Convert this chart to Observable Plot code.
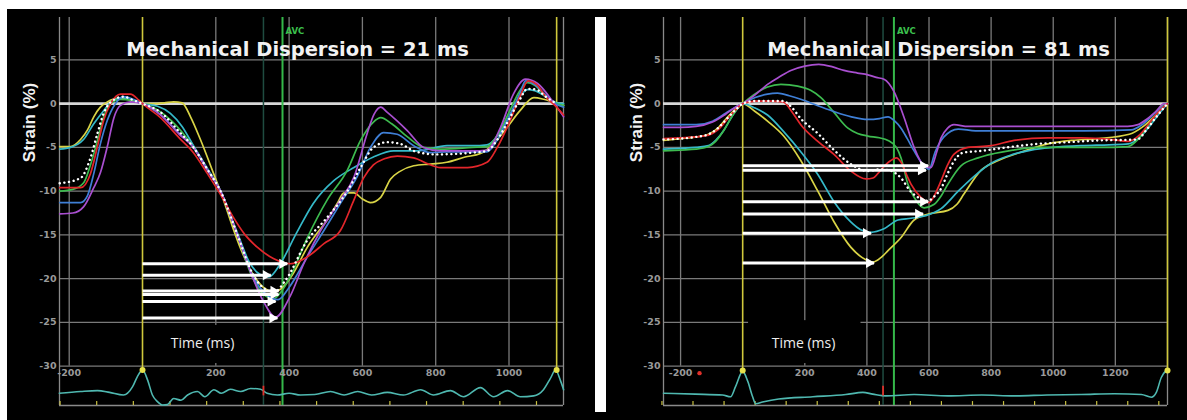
<!DOCTYPE html>
<html><head><meta charset="utf-8">
<script src="https://cdn.jsdelivr.net/npm/d3@7"></script>
<script src="https://cdn.jsdelivr.net/npm/@observablehq/plot@0.6"></script>
<style>
html,body{margin:0;padding:0;background:#fff;}
#wrap{position:relative;width:1187px;height:420px;overflow:hidden;background:#fff;}
#bg{position:absolute;left:7px;top:9px;width:1180px;height:411px;background:#000;}
#divider{position:absolute;left:595px;top:17px;width:11px;height:395px;background:#fff;}
#left{position:absolute;left:7px;top:9px;}
#right{position:absolute;left:606px;top:9px;}
svg{display:block}
</style></head>
<body>
<div id="wrap"><div id="bg"></div><div id="divider"></div><div id="left"></div><div id="right"></div></div>
<script>
// ---------- axis ticks ----------
const yTicks = [5, 0, -5, -10, -15, -20, -25, -30];
const leftXTicks = [-200, 200, 400, 600, 800, 1000];
const rightXTicks = [-200, 200, 400, 600, 800, 1000, 1200];
const leftEcgTicks = [-225, -125, -25, 75, 175, 275, 375, 475, 575, 675, 775, 875, 975, 1075];
const rightEcgTicks = [-260, -160, -60, 40, 140, 240, 340, 440, 540, 640, 740, 840, 940, 1040, 1140, 1240, 1340];

// ---------- titles ----------
const leftTitle = "Mechanical Dispersion = 21 ms";
const rightTitle = "Mechanical Dispersion = 81 ms";

// ---------- event times (ms) ----------
const leftYellowEvents = [0, 1130];
const leftIvcEvents = [330];
const leftAvcEvents = [382];
const leftRedDots = [];
const rightYellowEvents = [0, 1368];
const rightIvcEvents = [452];
const rightAvcEvents = [487];
const rightRedDots = [-139];

// ---------- left panel strain curves [ms, strain %] ----------
const leftYellow = [[-226,-4.9],[-196,-4.9],[-169,-4.1],[-150,-3.0],[-133,-1.5],[-115,-0.4],[-96,0.2],[-68,0.6],[-40,0.5],[-15,0.2],[0,0],[30,0],[60,0.1],[85,0.2],[108,0.1],[131,-1.5],[158,-4.1],[194,-8.0],[221,-11.0],[245,-14.0],[270,-16.8],[300,-19.4],[330,-21.0],[360,-21.5],[385,-20.9],[410,-19.5],[450,-16.4],[480,-14.6],[504,-13.3],[530,-11.5],[550,-10.2],[577,-10.2],[600,-10.9],[622,-11.3],[650,-10.7],[677,-8.6],[700,-7.8],[740,-7.1],[786,-6.9],[830,-6.7],[880,-6.1],[922,-5.7],[960,-4.5],[995,-2.7],[1030,-0.8],[1068,0.7],[1095,0.5],[1125,0.1],[1149,-0.2]];
const leftCyan = [[-226,-5.2],[-196,-5.0],[-161,-4.1],[-133,-2.3],[-106,-0.8],[-80,0.4],[-52,0.7],[-25,0.3],[0,0],[41,-0.3],[76,-1.1],[108,-2.6],[139,-4.8],[177,-7.4],[213,-10.0],[259,-14.8],[290,-18.0],[320,-19.5],[345,-19.8],[376,-18.3],[420,-14.8],[466,-11.4],[522,-8.8],[577,-7.3],[630,-6.1],[685,-5.4],[750,-5.4],[831,-4.8],[900,-4.8],[940,-4.7],[970,-3.6],[1000,-1.5],[1030,0.8],[1050,1.6],[1070,1.5],[1100,0.8],[1130,0.1],[1149,0]];
const leftGreen = [[-226,-10.0],[-190,-9.8],[-160,-9.0],[-142,-7.0],[-123,-4.2],[-106,-1.5],[-87,0],[-60,0.5],[-30,0.4],[0,0],[40,-0.7],[80,-2.0],[139,-5.0],[177,-7.6],[213,-10.0],[259,-15.0],[295,-19.4],[330,-21.8],[358,-22.3],[380,-21.4],[403,-19.8],[450,-15.3],[504,-11.0],[559,-7.6],[595,-4.2],[630,-2.1],[650,-1.6],[680,-2.3],[723,-3.8],[767,-5.0],[813,-5.2],[900,-5.0],[940,-4.9],[970,-3.5],[1000,-1.0],[1030,1.5],[1050,2.4],[1070,2.1],[1100,0.8],[1130,0],[1149,-0.2]];
const leftBlue = [[-226,-11.3],[-169,-11.3],[-150,-10.5],[-133,-8.0],[-115,-4.6],[-96,-1.9],[-74,0],[-52,0.8],[-25,0.5],[0,0],[50,-1.3],[100,-3.4],[139,-5.0],[177,-7.6],[213,-10.0],[259,-15.0],[300,-19.6],[340,-21.9],[370,-22.4],[400,-21.0],[450,-17.5],[495,-14.5],[540,-11.4],[585,-8.4],[622,-5.0],[658,-3.3],[695,-3.5],[740,-4.8],[786,-5.6],[831,-5.5],[940,-5.5],[970,-4.0],[1000,-1.5],[1030,1.2],[1045,2.6],[1070,2.2],[1100,1.0],[1130,-0.1],[1149,-0.4]];
const leftPurple = [[-226,-12.6],[-190,-12.5],[-161,-11.8],[-133,-9.6],[-115,-7.9],[-96,-4.9],[-78,-1.6],[-60,-0.2],[-33,0.2],[0,0],[50,-1.3],[100,-3.5],[139,-5.0],[177,-7.6],[213,-10.0],[259,-15.0],[300,-19.8],[330,-22.6],[363,-24.4],[403,-22.0],[440,-18.3],[486,-14.5],[540,-11.0],[577,-8.4],[613,-3.4],[632,-1.2],[650,-0.4],[668,-1.0],[723,-3.1],[767,-5.0],[813,-5.4],[900,-5.4],[940,-5.3],[977,-2.7],[1012,1.1],[1045,2.8],[1078,2.3],[1122,0.1],[1149,-1.5]];
const leftRed = [[-226,-9.6],[-169,-9.6],[-142,-8.0],[-123,-4.9],[-106,-1.9],[-87,0],[-60,1.1],[-33,1.1],[-10,0.4],[0,0],[49,-1.6],[100,-3.9],[139,-5.6],[177,-8.0],[213,-10.4],[248,-13.0],[280,-15.0],[313,-16.4],[357,-17.7],[403,-18.3],[450,-17.5],[495,-16.0],[540,-14.5],[577,-11.0],[603,-8.5],[630,-7.0],[660,-6.3],[695,-6.0],[740,-6.2],[780,-6.9],[813,-7.3],[887,-7.3],[940,-6.7],[968,-5.0],[995,-2.7],[1030,0.8],[1052,2.6],[1075,2.2],[1100,0.8],[1130,-0.4],[1149,-1.3]];
const leftAverage = [[-226,-9.1],[-169,-8.5],[-142,-6.2],[-123,-3.4],[-106,-1.1],[-80,0.4],[-52,0.8],[-25,0.4],[0,0],[50,-1.0],[100,-3.2],[139,-5.0],[177,-7.5],[213,-10.0],[259,-15.0],[300,-19.4],[335,-21.2],[360,-21.5],[390,-20.2],[450,-15.6],[504,-13.0],[559,-10.0],[595,-7.3],[630,-5.0],[668,-4.4],[704,-4.6],[740,-5.4],[800,-5.8],[900,-5.6],[940,-5.4],[970,-4.0],[1000,-1.8],[1030,0.5],[1050,1.7],[1075,1.6],[1100,0.8],[1130,0]];

// ---------- right panel strain curves [ms, strain %] ----------
const rightYellow = [[-255,-4.2],[-200,-4.0],[-150,-3.8],[-110,-3.5],[-80,-2.8],[-50,-1.6],[-20,-0.5],[0,0],[40,-0.9],[80,-2.0],[132,-3.7],[187,-6.5],[242,-10.0],[294,-13.5],[348,-16.4],[385,-17.6],[420,-18.1],[445,-17.6],[468,-16.8],[510,-15.3],[552,-13.3],[600,-12.6],[661,-12.2],[690,-11.5],[713,-10.3],[768,-7.6],[823,-6.5],[900,-5.5],[983,-4.6],[1060,-4.2],[1145,-4.0],[1245,-3.5],[1290,-2.6],[1330,-1.3],[1368,0]];
const rightCyan = [[-255,-5.2],[-200,-5.1],[-150,-5.0],[-110,-4.8],[-87,-4.2],[-60,-3.0],[-35,-1.5],[-15,-0.5],[0,0],[40,-0.5],[80,-1.3],[132,-3.2],[187,-5.5],[242,-8.1],[294,-11.2],[348,-13.5],[380,-14.4],[413,-14.7],[455,-14.3],[500,-13.3],[542,-13.1],[590,-12.8],[639,-12.0],[694,-10.0],[745,-8.3],[800,-6.8],[870,-5.8],[929,-5.3],[1000,-5.0],[1090,-4.8],[1180,-4.7],[1242,-4.6],[1280,-3.8],[1310,-2.6],[1340,-1.2],[1368,0]];
const rightGreen = [[-255,-5.4],[-200,-5.3],[-150,-5.2],[-110,-4.9],[-87,-4.3],[-60,-3.0],[-35,-1.5],[-15,-0.5],[0,0],[35,1.0],[80,1.9],[123,2.2],[177,2.0],[220,1.5],[252,0.7],[294,-1.0],[339,-2.8],[370,-3.4],[403,-3.7],[440,-3.9],[468,-4.2],[495,-5.0],[510,-6.2],[532,-9.2],[552,-10.7],[584,-11.9],[617,-11.5],[640,-10.5],[661,-9.2],[703,-7.1],[758,-6.2],[810,-5.7],[870,-5.3],[950,-5.0],[1050,-5.0],[1150,-5.0],[1240,-4.9],[1270,-4.2],[1300,-2.8],[1330,-1.3],[1360,0],[1368,0]];
const rightBlue = [[-255,-2.4],[-150,-2.4],[-97,-2.0],[-55,-1.1],[-23,-0.4],[0,0],[40,0.7],[80,1.1],[112,1.2],[150,0.9],[187,0.5],[240,-0.2],[294,-0.9],[350,-1.5],[403,-1.8],[440,-1.7],[468,-1.5],[490,-2.0],[510,-2.8],[530,-4.0],[552,-5.4],[584,-7.1],[600,-7.5],[620,-5.5],[648,-3.8],[694,-2.9],[750,-3.1],[850,-3.1],[1000,-3.1],[1100,-3.1],[1250,-3.0],[1290,-2.3],[1330,-1.0],[1368,0]];
const rightPurple = [[-255,-2.7],[-200,-2.7],[-150,-2.6],[-97,-2.1],[-55,-1.2],[-23,-0.4],[0,0],[40,1.0],[80,2.2],[120,3.1],[155,3.8],[200,4.3],[245,4.5],[290,4.2],[326,3.8],[370,3.5],[403,3.3],[430,3.0],[455,2.8],[487,1.4],[520,-1.6],[552,-5.0],[584,-7.1],[606,-7.3],[625,-5.5],[639,-3.9],[660,-2.8],[680,-2.4],[726,-2.6],[850,-2.6],[1000,-2.6],[1150,-2.6],[1240,-2.6],[1273,-2.4],[1300,-1.8],[1330,-0.9],[1358,0],[1368,0]];
const rightRed = [[-255,-4.0],[-200,-3.9],[-150,-3.8],[-110,-3.6],[-80,-3.0],[-50,-1.8],[-20,-0.6],[0,0],[40,0.3],[90,0.3],[130,0.2],[160,-1.0],[187,-2.4],[242,-4.3],[294,-5.8],[348,-7.7],[397,-8.6],[420,-8.5],[435,-8.0],[460,-7.0],[477,-6.5],[495,-6.2],[510,-6.7],[530,-8.3],[542,-9.2],[574,-10.7],[600,-11.3],[620,-10.3],[639,-8.8],[660,-7.0],[680,-5.8],[726,-5.0],[800,-4.8],[874,-4.2],[983,-3.9],[1090,-3.9],[1190,-4.1],[1242,-4.3],[1280,-3.5],[1310,-2.2],[1340,-0.9],[1368,0]];
const rightAverage = [[-255,-4.1],[-200,-4.0],[-150,-3.8],[-110,-3.5],[-80,-2.8],[-50,-1.7],[-20,-0.6],[0,0],[40,0.3],[90,0.3],[130,0.3],[160,-0.5],[187,-1.7],[242,-3.4],[294,-5.3],[348,-6.9],[403,-7.7],[440,-7.5],[470,-7.6],[510,-8.5],[540,-10.0],[570,-10.8],[595,-11.1],[620,-10.5],[639,-9.7],[660,-8.0],[680,-6.6],[710,-5.6],[768,-5.4],[850,-5.0],[950,-4.6],[1050,-4.4],[1150,-4.2],[1270,-4.1],[1300,-3.0],[1330,-1.6],[1368,0]];

// ---------- arrows: strain at peak, time of peak (ms) ----------
const leftArrowStrain = [-18.3, -19.6, -21.4, -21.8, -22.6, -24.5];
const leftArrowTime = [395, 350, 371, 371, 363, 368];
const rightArrowStrain = [-7.1, -7.6, -11.2, -12.6, -14.8, -18.2];
const rightArrowTime = [597, 590, 597, 581, 413, 423];

// ---------- ECG traces [ms, trace level] ----------
const leftEcg = [[-227,-33.1],[-169,-32.9],[-123,-32.8],[-90,-33.0],[-52,-33.3],[-27,-32.35],[-14,-31.2],[0,-30.45],[14,-31.6],[27,-33.3],[41,-34.06],[55,-34.45],[68,-34.4],[85,-33.7],[105,-33.9],[123,-33.3],[150,-32.9],[170,-33.5],[195,-32.7],[215,-33.1],[240,-32.65],[268,-32.9],[295,-32.55],[322,-32.65],[340,-33.1],[368,-33.3],[400,-33.1],[431,-33.3],[470,-33.25],[513,-32.9],[550,-33.3],[587,-32.9],[625,-33.3],[668,-33.0],[712,-33.3],[759,-32.7],[794,-33.3],[840,-32.8],[876,-33.5],[922,-32.46],[958,-33.5],[996,-32.8],[1031,-33.5],[1067,-33.4],[1094,-32.7],[1113,-31.4],[1127,-30.45],[1140,-31.6],[1149,-32.7]];
const rightEcg = [[-255,-33.1],[-152,-33.2],[-65,-33.3],[-39,-33.5],[-23,-32.35],[0,-30.6],[16,-31.7],[32,-33.5],[42,-34.3],[64,-34.1],[116,-33.75],[226,-33.5],[332,-33.25],[387,-33.0],[419,-33.2],[461,-33.4],[552,-33.25],[661,-33.4],[770,-33.3],[874,-33.4],[980,-33.3],[1090,-33.25],[1197,-33.15],[1284,-33.25],[1316,-33.55],[1332,-33.0],[1348,-31.3],[1366,-30.4]];

// ---------- styles ----------
const colors = {yellow:"#d9d446", cyan:"#35b9c9", green:"#3dbb4f", blue:"#3f7fd6", purple:"#a94fd0", red:"#e3262b", avg:"#ffffff"};
const gridColor = "#7a7a7a";
const tickFont = {fontFamily:"DejaVu Sans", fontWeight:"bold", fontSize:9.5, fill:"#9a9a9a"};

function panel(o) {
  const yDomain = [-34.5, 9.85];
  const pt = {x: d => d[0], y: d => d[1]};
  const curve = (pts, color, extra = {}) => Plot.line(pts, {...pt, stroke: color, strokeWidth: 1.7, curve: "monotone-x", ...extra});
  const marks = [
    // grid
    Plot.ruleY(yTicks.filter(d => d !== 0), {y: d => d, stroke: gridColor, strokeWidth: 1.3}),
    Plot.ruleX(o.xTicks, {x: d => d, y1: d3.min(yTicks), y2: yDomain[1], stroke: gridColor, strokeWidth: 1.3}),
    Plot.ruleX(o.xDomain, {x: d => d, stroke: "#8a8a8a", strokeWidth: 1.3}),
    Plot.ruleY([yDomain[0]], {y: d => d, stroke: "#8a8a8a", strokeWidth: 1.3}),
    Plot.ruleY([0], {y: d => d, stroke: "#d8d8d8", strokeWidth: 2.6}),
    // label box
    Plot.rect([o.box], {x1: d => d[0], x2: d => d[1], y1: d => d[2], y2: d => d[3], fill: "#000"}),
    // event lines
    Plot.ruleX(o.ivc, {x: d => d, stroke: "#1f4c40", strokeWidth: 1.5}),
    Plot.ruleX(o.avc, {x: d => d, stroke: "#35b84a", strokeWidth: 2}),
    Plot.ruleX(o.yellowEvents, {x: d => d, y1: o.ecgPeak, y2: yDomain[1], stroke: "#cfc83c", strokeWidth: 1.6}),
    // ECG
    Plot.ruleX(o.ecgTicks, {x: d => d, y1: yDomain[0], y2: -34.05, stroke: "#c8c040", strokeWidth: 1.2}),
    Plot.line(o.ecg, {...pt, stroke: "#4fb8b0", strokeWidth: 1.6, curve: "monotone-x"}),
    Plot.ruleX(o.ivc, {x: d => d, y1: -32.3, y2: -33.4, stroke: "#e0302a", strokeWidth: 1.8}),
    Plot.dot(o.yellowEvents, {x: d => d, y: o.ecgPeak, r: 3, fill: "#e5e04a"}),
    Plot.dot(o.redDots, {x: d => d, y: d3.min(yTicks), dy: 7, r: 2.2, fill: "#e0302a"}),
    // strain curves
    curve(o.s.yellow, colors.yellow),
    curve(o.s.cyan, colors.cyan),
    curve(o.s.green, colors.green),
    curve(o.s.blue, colors.blue),
    curve(o.s.purple, colors.purple),
    curve(o.s.red, colors.red),
    curve(o.s.avg, colors.avg, {strokeWidth: 2.4, strokeDasharray: "0.1,4.6", strokeLinecap: "round"}),
    // arrows (shaft + filled head)
    Plot.link(o.arrowStrain, {x1: 0, x2: (d, i) => o.arrowTime[i], y1: d => d, y2: d => d, stroke: "#ffffff", strokeWidth: 3}),
    Plot.dot(o.arrowStrain, {x: (d, i) => o.arrowTime[i], y: d => d, symbol: "triangle", rotate: 90, r: 3.8, fill: "#ffffff", dx: -5}),
    // tick labels
    Plot.text(o.xTicks, {x: d => d, y: d3.min(yTicks), dy: 7, text: d => String(d), ...tickFont}),
    Plot.text(yTicks, {y: d => d, frameAnchor: "left", dx: -3, textAnchor: "end", text: d => String(d), ...tickFont}),
    // titles and labels
    Plot.text([o.title], {frameAnchor: "top", dx: o.titleDx, dy: 32, lineAnchor: "middle", text: d => d, fontFamily: "DejaVu Sans", fontWeight: "bold", fontSize: 19.5, fill: "#f2f2f2"}),
    Plot.text(o.avc, {x: d => d, frameAnchor: "top", dx: 3, dy: 14, lineAnchor: "middle", textAnchor: "start", text: () => "AVC", fontFamily: "DejaVu Sans", fontWeight: "bold", fontSize: 8.5, fill: "#3cc04e"}),
    Plot.text(["Strain (%)"], {frameAnchor: "left", dx: o.strainDx, dy: -89, rotate: -90, lineAnchor: "middle", textAnchor: "middle", text: d => d, fontFamily: "Liberation Sans", fontWeight: "bold", fontSize: 17, fill: "#f2f2f2"}),
    Plot.text(["Time (ms)"], {frameAnchor: "bottom", dx: o.timeDx, dy: -62, lineAnchor: "middle", text: d => d, fontFamily: "Open Sans", fontSize: 14, fill: "#eeeeee"})
  ];
  return Plot.plot({
    width: o.width, height: 411,
    marginLeft: o.marginLeft, marginRight: o.marginRight, marginTop: 8, marginBottom: 15,
    x: {domain: o.xDomain, axis: null},
    y: {domain: yDomain, axis: null},
    style: {background: "#000", color: "#fff", overflow: "visible"},
    marks
  });
}

document.getElementById("left").appendChild(panel({
  width: 588, marginLeft: 52, marginRight: 32,
  xDomain: [-226.5, 1148.7], xTicks: leftXTicks, ecgTicks: leftEcgTicks,
  yellowEvents: leftYellowEvents, ivc: leftIvcEvents, avc: leftAvcEvents, redDots: leftRedDots, ecgPeak: -30.45,
  ecg: leftEcg, box: [40, 290, -25.35, -29.7],
  s: {yellow: leftYellow, cyan: leftCyan, green: leftGreen, blue: leftBlue, purple: leftPurple, red: leftRed, avg: leftAverage},
  arrowStrain: leftArrowStrain, arrowTime: leftArrowTime,
  title: leftTitle, titleDx: -14, strainDx: -30, timeDx: -109
}));
document.getElementById("right").appendChild(panel({
  width: 581, marginLeft: 57, marginRight: 20,
  xDomain: [-255, 1368], xTicks: rightXTicks, ecgTicks: rightEcgTicks,
  yellowEvents: rightYellowEvents, ivc: rightIvcEvents, avc: rightAvcEvents, redDots: rightRedDots, ecgPeak: -30.5,
  ecg: rightEcg, box: [19, 381, -24.8, -29.7],
  s: {yellow: rightYellow, cyan: rightCyan, green: rightGreen, blue: rightBlue, purple: rightPurple, red: rightRed, avg: rightAverage},
  arrowStrain: rightArrowStrain, arrowTime: rightArrowTime,
  title: rightTitle, titleDx: 23, strainDx: -27, timeDx: -112
}));
</script>
</body></html>
